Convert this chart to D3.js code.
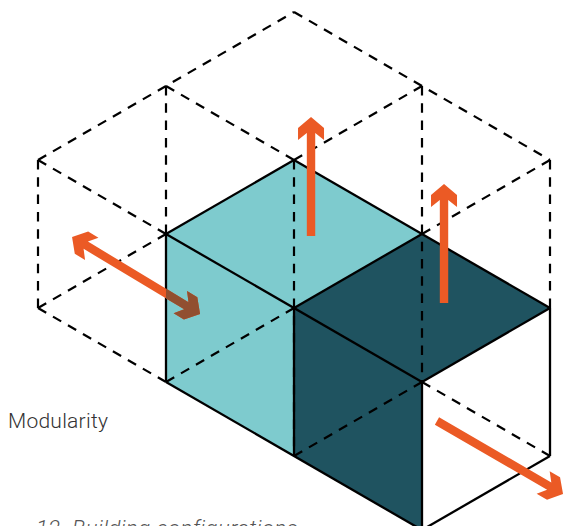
<!DOCTYPE html>
<html lang="en">
<head>
  <meta charset="UTF-8">
  <title>Modularity</title>
  <script src="https://d3js.org/d3.v7.min.js"></script>
  <style>
    html, body { margin: 0; padding: 0; background: #fff; overflow: hidden; }
    svg { display: block; }
    .face { stroke: none; }
    .dash { fill: none; stroke: #000; stroke-width: 2.2px; stroke-dasharray: 9.5 7.8; }
    .solid { fill: none; stroke: #000; stroke-width: 2.3px; stroke-linejoin: round; }
    .label { font-family: Roboto, "Open Sans", sans-serif; font-weight: 300; font-size: 21px; letter-spacing: 0.25px; fill: #333; }
    .note { font-family: Roboto, "Open Sans", sans-serif; font-weight: 300; font-style: italic; font-size: 22px; letter-spacing: 0.5px; fill: #555; }
  </style>
</head>
<body>
  <script>
    // grid units: column 0-4, row 0-7 (half steps of the iso grid)
    const faceColors = ['#7ecbce', '#7ecbce', '#1f5360', '#1f5360'];
    const faces = [
      [[1, 3], [2, 2], [3, 3], [2, 4]],
      [[1, 3], [2, 4], [2, 6], [1, 5]],
      [[2, 4], [3, 3], [4, 4], [3, 5]],
      [[2, 4], [3, 5], [3, 7], [2, 6]]
    ];
    const dashedEdges = [
      [[0, 2], [2, 0]], [[2, 0], [4, 2]],
      [[0, 2], [0, 4]], [[4, 2], [4, 4]],
      [[0, 2], [1, 3]], [[0, 4], [1, 3]],
      [[0, 4], [1, 5]], [[1, 1], [1, 3]],
      [[1, 1], [2, 2]], [[3, 1], [2, 2]],
      [[3, 3], [4, 2]],
      [[2, 2], [2, 6]], [[3, 1], [3, 5]],
      [[1, 5], [2, 4]], [[2, 6], [3, 5]],
      [[3, 5], [4, 6]]
    ];
    const solidEdges = [
      [[1, 3], [2, 2]], [[2, 2], [4, 4]], [[4, 4], [3, 5]],
      [[3, 5], [1, 3]], [[2, 4], [3, 3]], [[1, 3], [1, 5]],
      [[1, 5], [3, 7]], [[2, 4], [2, 6]], [[3, 5], [3, 7]],
      [[4, 4], [4, 6]], [[4, 6], [3, 7]]
    ];
    // from, to, double headed
    const arrows = [
      { from: [2.133, 3.027], to: [2.133, 1.419], both: false },
      { from: [3.172, 3.932], to: [3.172, 2.324], both: false },
      { from: [0.266, 3.04], to: [1.266, 4.081], both: true },
      { from: [3.117, 5.527], to: [4.102, 6.514], both: false }
    ];
    const labelText = 'Modularity';
    const noteText = '12. Building configurations';

    const width = 563;
    const height = 526;
    const x = d3.scaleLinear().domain([0, 4]).range([38, 550]);
    const y = d3.scaleLinear().domain([0, 7]).range([12, 530]);
    const line = d3.line().x(d => x(d[0])).y(d => y(d[1]));

    const svg = d3.select('body').append('svg')
      .attr('width', width)
      .attr('height', height);

    svg.append('clipPath').attr('id', 'teal-face')
      .append('path')
      .attr('d', line(faces[1]) + 'Z');

    svg.selectAll('.face').data(faces).enter().append('path')
      .attr('class', 'face')
      .attr('fill', (d, i) => faceColors[i])
      .attr('d', d => line(d) + 'Z');

    svg.selectAll('.dash').data(dashedEdges).enter().append('path')
      .attr('class', 'dash')
      .attr('d', line);

    svg.selectAll('.solid').data(solidEdges).enter().append('path')
      .attr('class', 'solid')
      .attr('d', line);

    // arrow outline, drawn along the direction from -> to
    function arrowPath(d) {
      const x0 = x(d.from[0]), y0 = y(d.from[1]);
      const x1 = x(d.to[0]), y1 = y(d.to[1]);
      const len = Math.hypot(x1 - x0, y1 - y0);
      const ux = (x1 - x0) / len, uy = (y1 - y0) / len;
      const pt = (along, across) => [x0 + ux * along - uy * across, y0 + uy * along + ux * across];
      const w = 4.2;
      const head = (tip, sign) => [
        [tip - sign * 16, w], [tip - sign * 23, 13], [tip - sign * 11, 13], [tip, 0],
        [tip - sign * 11, -13], [tip - sign * 23, -13], [tip - sign * 16, -w]
      ];
      let outline;
      if (d.both) {
        outline = [...head(len, 1), ...head(0, -1).reverse()];
      } else {
        outline = [[0, w], ...head(len, 1), [0, -w]];
      }
      return 'M' + outline.map(p => pt(p[0], p[1]).join(',')).join('L') + 'Z';
    }

    svg.selectAll('.arrow').data(arrows).enter().append('path')
      .attr('class', 'arrow')
      .attr('fill', '#eb5a25')
      .attr('d', arrowPath);

    // the double arrow darkens where it crosses the teal side
    svg.append('path')
      .attr('fill', '#914f30')
      .attr('clip-path', 'url(#teal-face)')
      .attr('d', arrowPath(arrows[2]));

    svg.append('text')
      .attr('class', 'label')
      .attr('x', 8)
      .attr('y', 428)
      .text(labelText);

    svg.append('text')
      .attr('class', 'note')
      .attr('x', 36)
      .attr('y', 536)
      .text(noteText);
  </script>
</body>
</html>
